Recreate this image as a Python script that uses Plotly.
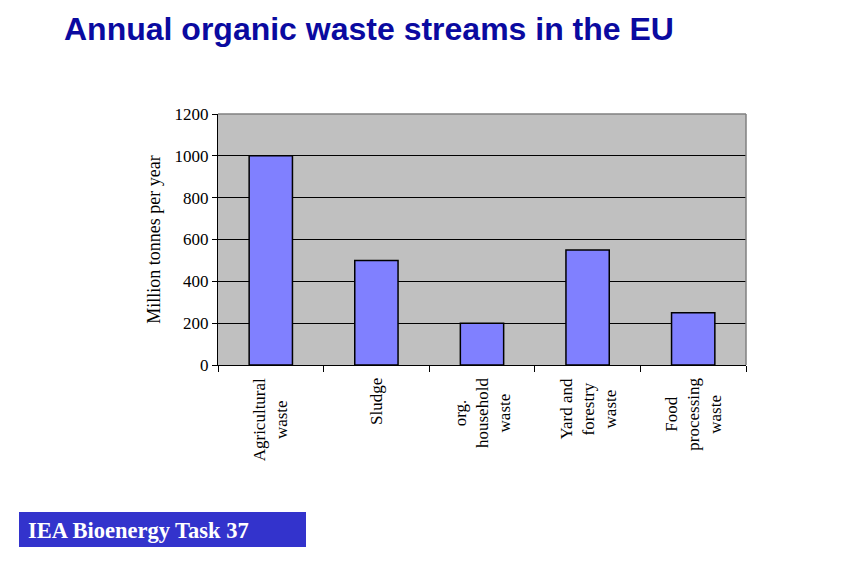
import plotly.graph_objects as go

categories = ["Agricultural<br>waste", "Sludge", "org.<br>household<br>waste",
              "Yard and<br>forestry<br>waste", "Food<br>processing<br>waste"]
values = [1000, 500, 200, 550, 250]
y_ticks = [0, 200, 400, 600, 800, 1000, 1200]

OFF = 8  # page body margin
W, H = 843 - OFF, 566 - OFF
L, R, T, B = 218 - OFF, 746 - OFF, 114 - OFF, 365 - OFF

fig = go.Figure()
fig.add_trace(go.Bar(
    x=categories, y=values,
    marker=dict(color="#8080FF", line=dict(color="black", width=1.5)),
    width=0.41,
))

serif = "Liberation Serif, Times New Roman, serif"

def px(xp):
    return (xp - OFF - L) / (R - L)

def py(yp):
    return (B - (yp - OFF)) / (B - T)

annotations = []
for c in categories:
    annotations.append(dict(
        x=c, y=py(376), xref="x", yref="paper", text=c, showarrow=False,
        textangle=-90, xanchor="center", yanchor="top", align="center",
        font=dict(family=serif, size=17, color="black")))

annotations.append(dict(
    x=px(26), y=py(530), xref="paper", yref="paper",
    text="<b>IEA Bioenergy Task 37</b>", showarrow=False,
    xanchor="left", yanchor="middle",
    font=dict(family=serif, size=22.5, color="white")))

shapes = [
    dict(type="rect", xref="paper", yref="paper",
         x0=px(19), x1=px(306), y0=py(547), y1=py(512),
         fillcolor="#3333CC", line=dict(width=0), layer="below"),
    dict(type="line", xref="paper", yref="paper", x0=0, x1=1, y0=1, y1=1,
         line=dict(color="#808080", width=1.5)),
    dict(type="line", xref="paper", yref="paper", x0=1, x1=1, y0=0, y1=1,
         line=dict(color="#808080", width=1.5)),
]

fig.update_layout(
    width=W, height=H,
    margin=dict(l=L, r=W - R, t=T, b=H - B, autoexpand=False),
    paper_bgcolor="white", plot_bgcolor="#C0C0C0",
    showlegend=False,
    title=dict(text="<b>Annual organic waste streams in the EU</b>",
               x=(64 - OFF) / W, xanchor="left", xref="container",
               y=1 - (29 - OFF) / H, yanchor="middle", yref="container",
               font=dict(family="Liberation Sans, Arial, sans-serif", size=32, color="#0A0AA0")),
    xaxis=dict(showticklabels=False, ticks="outside", tickson="boundaries",
               ticklen=6, tickcolor="black", showline=True, linecolor="black",
               linewidth=1, showgrid=False, zeroline=False),
    yaxis=dict(range=[0, 1200], tickvals=y_ticks, ticks="outside", ticklen=5,
               tickcolor="black", showline=True, linecolor="black", linewidth=1,
               gridcolor="black", gridwidth=1, zeroline=False,
               tickfont=dict(family=serif, size=17, color="black"),
               title=dict(text="Million tonnes per year", standoff=9,
                          font=dict(family=serif, size=18, color="black"))),
    annotations=annotations,
    shapes=shapes,
)

fig.write_html("out.html")
